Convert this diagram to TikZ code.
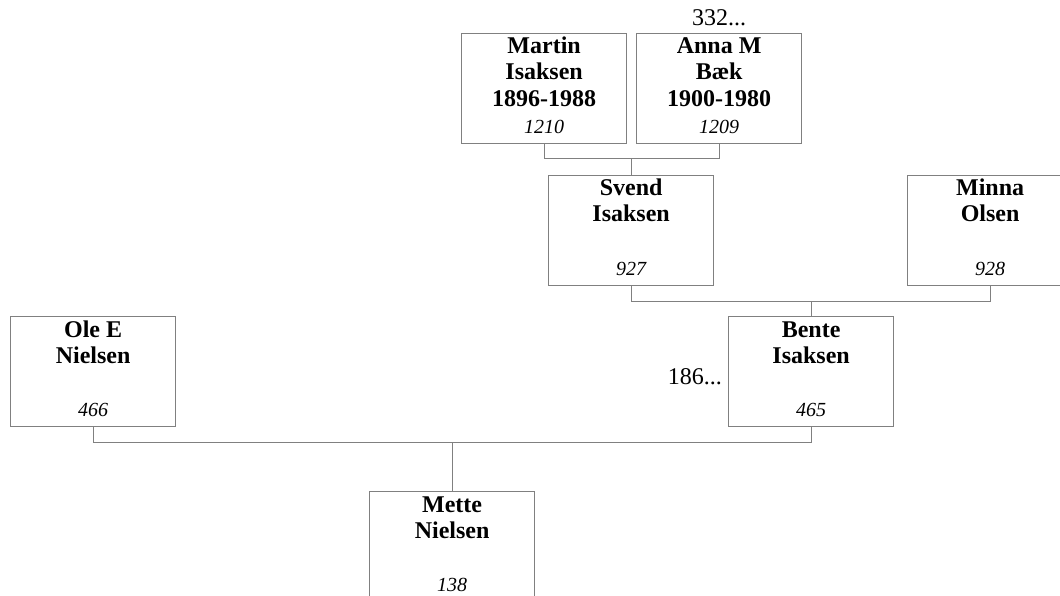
\documentclass[tikz,border=0pt]{standalone}
\usepackage{fontspec}
\setmainfont{Liberation Serif}
\usetikzlibrary{calc}
\definecolor{linegray}{RGB}{128,128,128}
\tikzset{
  pbox/.style={draw=linegray, line width=1.2pt, minimum width=165pt, minimum height=110pt, inner sep=0pt, anchor=north west},
  nm/.style={font=\fontsize{24}{26}\selectfont\bfseries, anchor=base, inner sep=0pt},
  num/.style={font=\fontsize{20}{22}\selectfont\itshape, anchor=base, inner sep=0pt},
  lbl/.style={font=\fontsize{24}{26}\selectfont, inner sep=0pt},
  link/.style={draw=linegray, line width=1.2pt},
}
\newcommand\person[6]{%
  \node[pbox] (#1) at (#2,#3) {};
  \node[nm] (#1-a) at ($(#1.north)+(0,21)$) {#4};
  \node[nm] (#1-b) at ($(#1.north)+(0,47)$) {#5};
  \node[num] (#1-n) at ($(#1.north)+(0,100.5)$) {#6};
}
\begin{document}
\begin{tikzpicture}[x=1pt,y=-1pt]
\useasboundingbox (0,0) rectangle (1060,596);
\clip (0,0) rectangle (1060,596);
\person{martin}{461}{33}{Martin}{Isaksen}{1210}
\node[nm] (martin-c) at ($(martin.north)+(0,73.5)$) {1896-1988};
\person{anna}{636}{33}{Anna M}{Bæk}{1209}
\node[nm] (anna-c) at ($(anna.north)+(0,73.5)$) {1900-1980};
\person{svend}{548}{175}{Svend}{Isaksen}{927}
\person{minna}{907}{175}{Minna}{Olsen}{928}
\person{ole}{10}{316}{Ole E}{Nielsen}{466}
\person{bente}{728}{316}{Bente}{Isaksen}{465}
\person{mette}{369}{491}{Mette}{Nielsen}{138}
\node[lbl, anchor=base] (more1) at ($(anna.north)+(0,-7)$) {332...};
\node[lbl, anchor=base east] (more2) at ($(bente.west)+(-6,13)$) {186...};
% connectors
\coordinate (bar1) at ($(martin.south)+(0,14)$);
\draw[link] (martin.south) -- (bar1) -| (anna.south);
\draw[link] (svend.north) -- (svend.north |- bar1);
\coordinate (bar2) at ($(svend.south)+(0,15)$);
\draw[link] (svend.south) -- (bar2) -| (minna.south);
\draw[link] (bente.north) -- (bente.north |- bar2);
\coordinate (bar3) at ($(ole.south)+(0,15)$);
\draw[link] (ole.south) -- (bar3) -| (bente.south);
\draw[link] (mette.north) -- (mette.north |- bar3);
\end{tikzpicture}
\end{document}
